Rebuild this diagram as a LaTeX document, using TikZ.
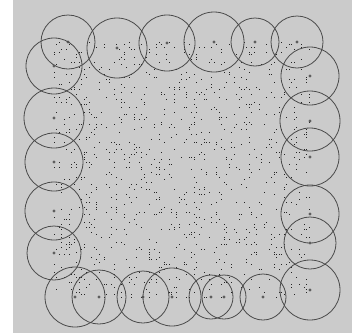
\documentclass[tikz,border=0pt]{standalone}
\usetikzlibrary{calc}
\definecolor{bgc}{HTML}{CBCBCB}
\definecolor{dotc}{HTML}{242424}
\definecolor{ringc}{HTML}{4A4A4A}
\definecolor{cenc}{HTML}{5E5E5E}
\tikzset{
  ring/.style={draw=ringc, line width=0.8pt},
  cen/.style={fill=cenc},
  pt/.style={fill=dotc}
}
\setrandomseed 20231
\begin{document}
\begin{tikzpicture}[x=1pt,y=-1pt]
\useasboundingbox (0,0) rectangle (352,335);
\fill[white] (0,0) rectangle (352,335);
\fill[bgc] (13,0) rectangle (352,333);
% scattered points on a lattice, snapped to whole pixels
\foreach \i in {0,...,102}{
  \foreach \j in {0,...,102}{
    \ifnum\uniformdeviate 1000<98
      \pgfmathtruncatemacro\px{54+2.5*\i}
      \pgfmathtruncatemacro\py{42+2.5*\j}
      \fill[pt] (\px-0.3,\py-0.3) rectangle ++(1.6,1.6);
    \fi
  }
}
% circles: x, y, r
\foreach \cx/\cy/\cr in {
  68/42/27, 117/48/30, 167/43/28, 214/42/30, 255/42/24, 297/42/26,
  310/76/29, 310/121/30, 310/157/29, 310/214/29, 310/243/26, 310/290/30,
  75/297/30, 99/297/27, 143/297/26, 172/297/29, 211/297/22, 224/297/22, 263/297/23,
  54/66/28, 54/118/30, 54/162/29, 54/211/29, 54/253/27}{
  \coordinate (c\cx-\cy) at (\cx,\cy);
  \fill[cen] (c\cx-\cy) circle (1.7);
  \draw[ring] (c\cx-\cy) circle (\cr);
}
\end{tikzpicture}
\end{document}
